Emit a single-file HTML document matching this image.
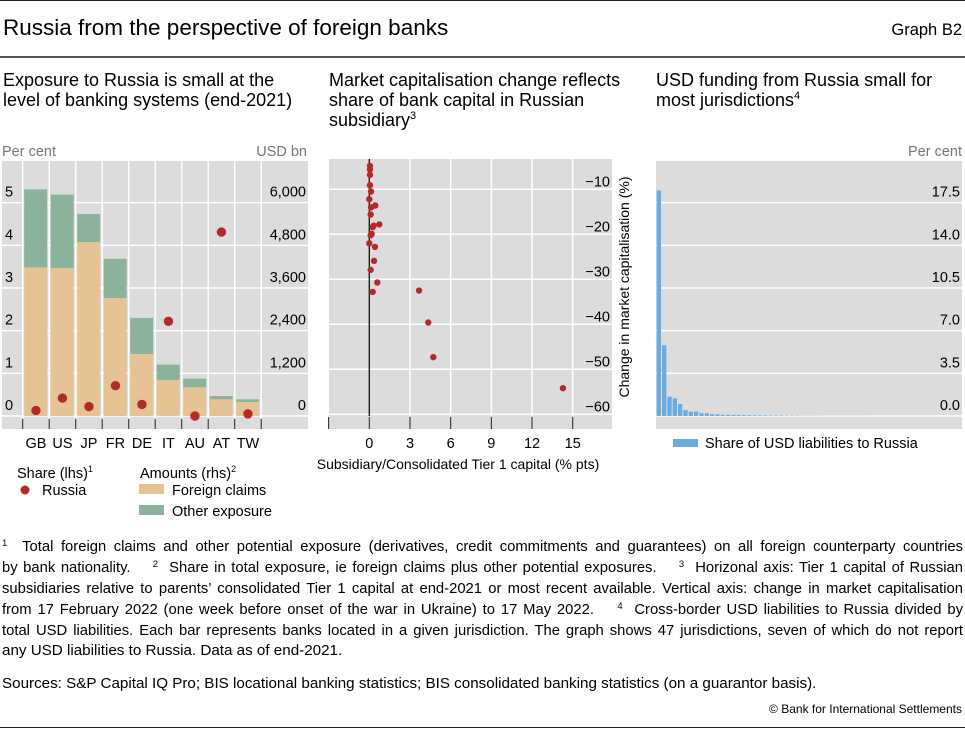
<!DOCTYPE html>
<html><head><meta charset="utf-8">
<style>
html,body{margin:0;padding:0;background:#fff;}
body{width:965px;height:729px;position:relative;overflow:hidden;font-family:"Liberation Sans",sans-serif;color:#000;}
.fn{position:absolute;left:2px;width:961px;font-size:14.8px;white-space:nowrap;text-align:justify;text-align-last:justify;line-height:16px;}
.fn sup{font-size:9.5px;vertical-align:5px;line-height:0;}
</style></head><body>
<div style="position:absolute;left:0;top:0;width:965px;height:1px;background:#222"></div>
<div style="position:absolute;left:3px;top:15px;font-size:22.5px;">Russia from the perspective of foreign banks</div>
<div style="position:absolute;right:3px;top:21px;font-size:16.5px;">Graph B2</div>
<div style="position:absolute;left:0;top:56px;width:965px;height:2px;background:#555;z-index:5"></div>

<svg id="chart" width="965" height="530" style="position:absolute;left:0;top:0" font-family="Liberation Sans, sans-serif">
<text x="3" y="86" font-size="18">Exposure to Russia is small at the</text>
<text x="3" y="106" font-size="18">level of banking systems (end-2021)</text>
<text x="329" y="86" font-size="18">Market capitalisation change reflects</text>
<text x="329" y="106" font-size="18">share of bank capital in Russian</text>
<text x="329" y="126" font-size="18">subsidiary<tspan font-size="11" dy="-7">3</tspan></text>
<text x="656" y="86" font-size="18">USD funding from Russia small for</text>
<text x="656" y="106" font-size="18">most jurisdictions<tspan font-size="11" dy="-7">4</tspan></text>

<text x="2" y="156" font-size="14.5" fill="#777">Per cent</text>
<text x="307" y="156" font-size="14.5" fill="#777" text-anchor="end">USD bn</text>
<text x="962" y="156" font-size="14.5" fill="#777" text-anchor="end">Per cent</text>

<rect x="2" y="161" width="306" height="268" fill="#dcdcdc"/>
<rect x="329" y="159" width="283" height="270" fill="#dcdcdc"/>
<rect x="656" y="161" width="306" height="268" fill="#dcdcdc"/>
<g id="p1"></g><g id="p2"></g><g id="p3"></g>

<text x="17" y="478" font-size="14.5">Share (lhs)<tspan font-size="9" dy="-6">1</tspan></text>
<circle cx="25" cy="490" r="4.5" fill="#b22a2a"/>
<text x="42" y="495" font-size="14.5">Russia</text>
<text x="140" y="478" font-size="14.5">Amounts (rhs)<tspan font-size="9" dy="-6">2</tspan></text>
<rect x="139" y="484" width="25" height="10" fill="#e6c394"/>
<text x="172" y="495" font-size="14.5">Foreign claims</text>
<rect x="139" y="505" width="25" height="10" fill="#8bb29b"/>
<text x="172" y="516" font-size="14.5">Other exposure</text>

<text x="458" y="469" font-size="14" text-anchor="middle">Subsidiary/Consolidated Tier 1 capital (% pts)</text>
<text transform="translate(629,287) rotate(-90)" font-size="14" text-anchor="middle">Change in market capitalisation (%)</text>

<rect x="673" y="439" width="25" height="8" fill="#6aabe0"/>
<text x="705" y="448" font-size="14.5">Share of USD liabilities to Russia</text>
</svg>

<div class="fn" style="top:539px"><sup>1</sup>&nbsp; Total foreign claims and other potential exposure (derivatives, credit commitments and guarantees) on all foreign counterparty countries</div>
<div class="fn" style="top:560px">by bank nationality. &nbsp;&nbsp; <sup>2</sup>&nbsp; Share in total exposure, ie foreign claims plus other potential exposures. &nbsp;&nbsp; <sup>3</sup>&nbsp; Horizonal axis: Tier 1 capital of Russian</div>
<div class="fn" style="top:581px">subsidiaries relative to parents’ consolidated Tier 1 capital at end-2021 or most recent available. Vertical axis: change in market capitalisation</div>
<div class="fn" style="top:602px">from 17 February 2022 (one week before onset of the war in Ukraine) to 17 May 2022. &nbsp;&nbsp; <sup>4</sup>&nbsp; Cross-border USD liabilities to Russia divided by</div>
<div class="fn" style="top:623px">total USD liabilities. Each bar represents banks located in a given jurisdiction. The graph shows 47 jurisdictions, seven of which do not report</div>
<div class="fn" style="top:643px;text-align-last:left;font-size:15.2px">any USD liabilities to Russia. Data as of end-2021.</div>
<div class="fn" style="top:676px;text-align-last:left;font-size:15.2px">Sources: S&amp;P Capital IQ Pro; BIS locational banking statistics; BIS consolidated banking statistics (on a guarantor basis).</div>
<div style="position:absolute;right:3px;top:702px;font-size:12px;">© Bank for International Settlements</div>
<div style="position:absolute;left:0;top:727px;width:965px;height:1px;background:#222"></div>

<script>
const p1Categories = ["GB","US","JP","FR","DE","IT","AU","AT","TW"];
const p1ForeignClaims = [4180,4160,4890,3320,1745,1015,810,470,395];
const p1TotalExposure = [6375,6225,5680,4420,2760,1445,1050,560,470];
const p1RussiaShare = [0.13,0.42,0.22,0.71,0.27,2.22,0.0,4.31,0.05];
const p1LhsTicks = [0,1,2,3,4,5];
const p1RhsTicks = ["0","1,200","2,400","3,600","4,800","6,000"];

const p2X = [0.05,0.05,0.05,0.05,0.13,0,0.44,0.13,0.1,0.32,0.74,0.25,0.18,0.1,0,0.42,0.35,0.1,0.59,0.25,3.67,4.35,4.72,14.28];
const p2Y = [-4.8,-5.6,-6.8,-9.1,-10.5,-12.2,-13.6,-14.0,-15.6,-18.1,-17.8,-18.4,-19.9,-20.2,-22.0,-22.8,-25.9,-27.9,-30.7,-32.8,-32.5,-39.6,-47.3,-54.2];
const p2XTicks = [0,3,6,9,12,15];
const p2YTicks = [-10,-20,-30,-40,-50,-60];

const p3Values = [18.5,5.8,1.58,1.45,0.98,0.49,0.36,0.36,0.22,0.22,0.14,0.14,0.1,0.1,0.08,0.08,0.07,0.06,0.06,0.05,0.05,0.04,0.04,0.04,0.03,0.03,0.03,0.02,0.02,0.02,0.02,0.01,0.01,0.01,0.01,0.01,0.01,0.01,0.01,0.01,0,0,0,0,0,0,0];
const p3Ticks = ["0.0","3.5","7.0","10.5","14.0","17.5"];

const NS="http://www.w3.org/2000/svg";
function mk(parent,tag,attrs){const e=document.createElementNS(NS,tag);for(const k in attrs)e.setAttribute(k,attrs[k]);parent.appendChild(e);return e;}

// Panel 1
const g1=document.getElementById('p1');
const y1L=v=>416-v*42.67;
const y1R=v=>416-v/1200*42.67;
const x1=i=>22.7+i*26.5;
for(let i=0;i<p1LhsTicks.length;i++){
  const y=y1L(p1LhsTicks[i]);
  const l=mk(g1,'line',{x1:2,x2:308,y1:y,y2:y,stroke:'#fff','stroke-width':1.5});
  
  
  const t=mk(g1,'text',{x:5,y:y-6,'font-size':14.5});t.textContent=p1LhsTicks[i];
  
  
  const t2=mk(g1,'text',{x:306,y:y-6,'font-size':14.5,'text-anchor':'end'});t2.textContent=p1RhsTicks[i];
  
  
}
for(let i=0;i<=p1Categories.length;i++){
  const x=x1(i);
  const l=mk(g1,'line',{x1:x,x2:x,y1:161,y2:418,stroke:'#fff','stroke-width':1.5});
  
  
  const tk=mk(g1,'line',{x1:x,x2:x,y1:419,y2:429,stroke:'#222','stroke-width':1});
  
  
}
p1Categories.forEach((c,i)=>{
  const bx=x1(i)+1.5,bw=23;
  const fy=y1R(p1ForeignClaims[i]),ty=y1R(p1TotalExposure[i]);
  const r1=mk(g1,'rect',{x:bx,y:fy,width:bw,height:416-fy,fill:'#e6c394'});
  
  
  const r2=mk(g1,'rect',{x:bx,y:ty,width:bw,height:fy-ty,fill:'#8bb29b'});
  
  
  const t=mk(g1,'text',{x:x1(i)+13.25,y:448,'font-size':14.5,'text-anchor':'middle'});t.textContent=c;
  
  
});
p1Categories.forEach((c,i)=>{
  const d=mk(g1,'circle',{cx:x1(i)+13.25,cy:y1L(p1RussiaShare[i]),r:4.7,fill:'#b22a2a'});
  
  
});

// Panel 2
const g2=document.getElementById('p2');
const x2=v=>369.3+v*13.56;
const y2=v=>189.3+(-10-v)*4.5;
p2YTicks.forEach(v=>{
  const y=y2(v);
  const l=mk(g2,'line',{x1:329,x2:612,y1:y,y2:y,stroke:'#fff','stroke-width':1.5});
  
  
  const t=mk(g2,'text',{x:610,y:y-3,'font-size':14.5,'text-anchor':'end'});t.textContent='\u2212'+Math.abs(v);
  
  
});
p2XTicks.forEach(v=>{
  const x=x2(v);
  if(v!==0){const l=mk(g2,'line',{x1:x,x2:x,y1:159,y2:416,stroke:'#fff','stroke-width':1.5});
  
  }
  const tk=mk(g2,'line',{x1:x,x2:x,y1:417,y2:429,stroke:'#222'});
  
  
  const t=mk(g2,'text',{x:x,y:448,'font-size':14.5,'text-anchor':'middle'});t.textContent=v;
  
  
});
{const tk=mk(g2,'line',{x1:x2(-3),x2:x2(-3),y1:417,y2:429,stroke:'#222'});

}
{const z=mk(g2,'line',{x1:x2(0),x2:x2(0),y1:159,y2:416,stroke:'#111','stroke-width':1.3});

}
p2X.forEach((v,i)=>{
  const d=mk(g2,'circle',{cx:x2(v),cy:y2(p2Y[i]),r:3.2,fill:'#b22a2a'});
  
  
});

// Panel 3
const g3=document.getElementById('p3');
const y3=v=>416-v/3.5*42.67;
p3Ticks.forEach(s=>{
  const y=y3(parseFloat(s));
  const l=mk(g3,'line',{x1:656,x2:962,y1:y,y2:y,stroke:'#fff','stroke-width':1.5});
  
  
  const t=mk(g3,'text',{x:960,y:y-6,'font-size':14.5,'text-anchor':'end'});t.textContent=s;
  
  
});
p3Values.forEach((v,i)=>{
  const y=y3(v);
  const r=mk(g3,'rect',{x:656.7+i*5.33,y:y,width:4.3,height:Math.max(416-y,0),fill:'#6aabe0'});
  
  
});
</script>
</body></html>
